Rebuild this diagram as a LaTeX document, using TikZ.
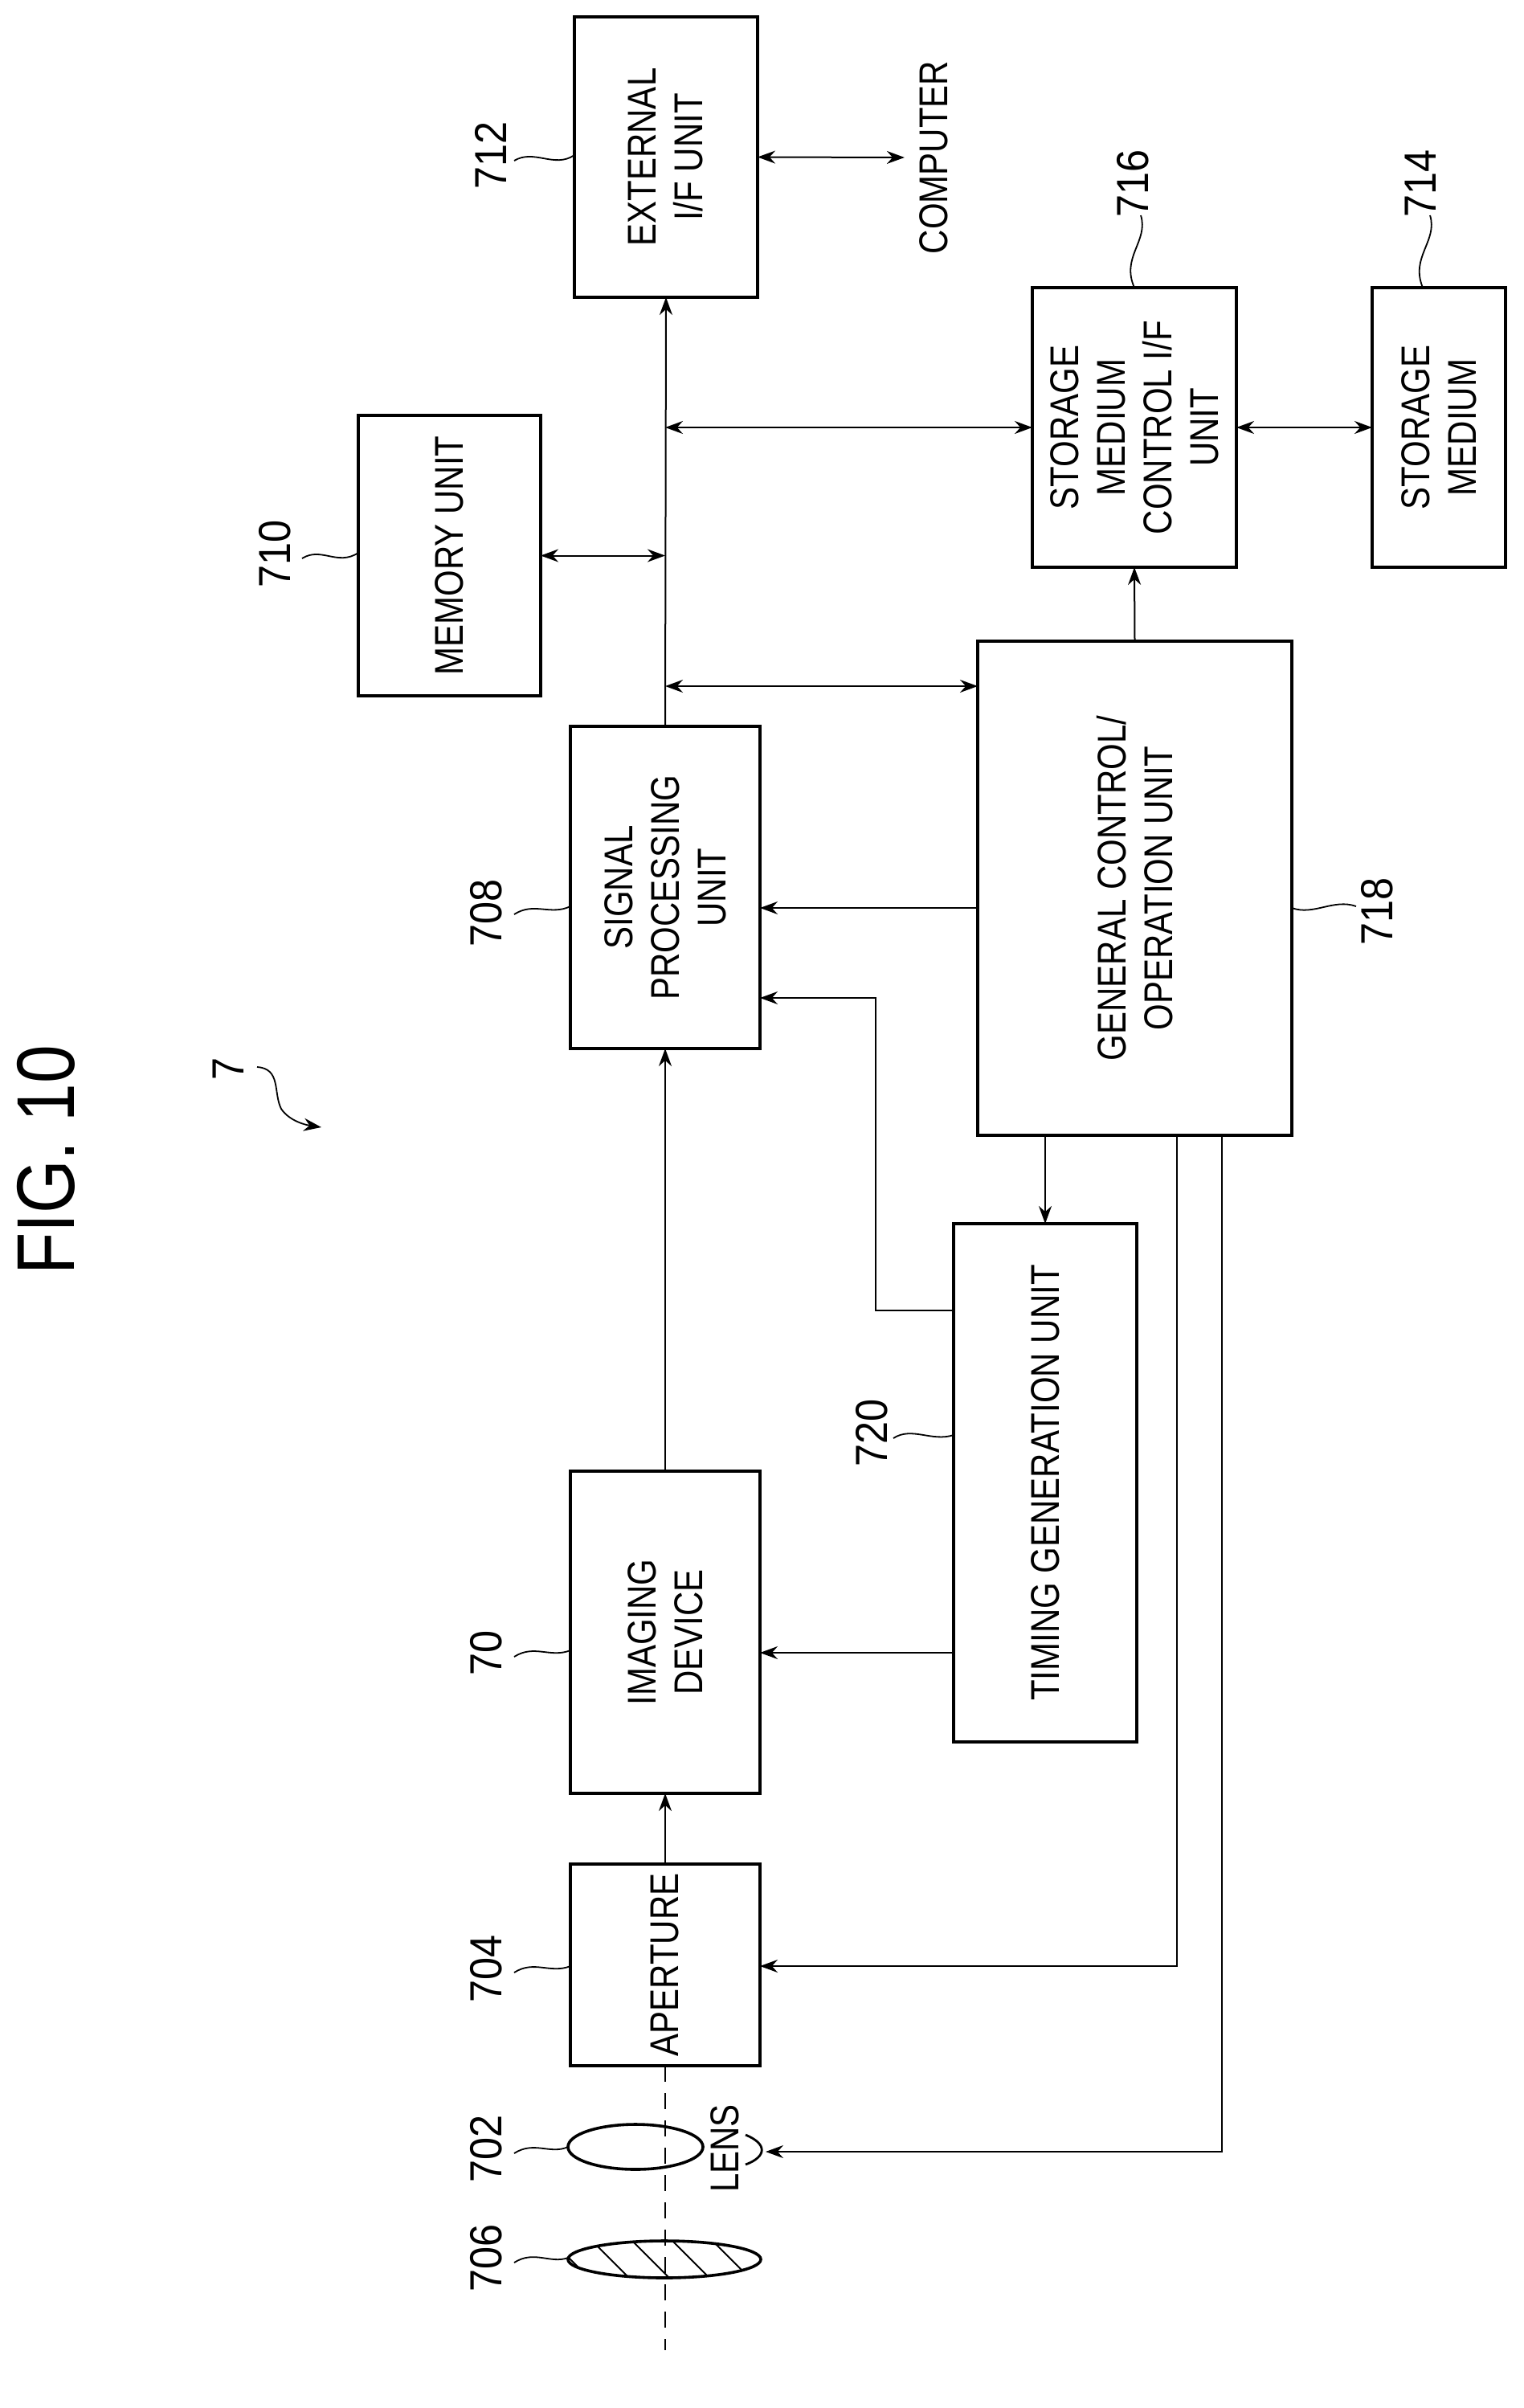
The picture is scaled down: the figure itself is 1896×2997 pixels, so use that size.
\documentclass[tikz,border=0pt]{standalone}
\usepackage{fontspec}
\setmainfont{Liberation Sans}[FakeStretch=0.84]
\newfontfamily\numfont{Liberation Sans}[FakeStretch=0.9]
\usetikzlibrary{arrows.meta,calc}
\begin{document}
\begin{tikzpicture}[x=0.5pt,y=-0.5pt,
  box/.style={draw,line width=2.4pt,rotate=90,inner sep=0pt,outer sep=0pt,align=center,font=\fontsize{25}{29}\selectfont},
  lbl/.style={rotate=90,font=\numfont\fontsize{28}{30}\selectfont,inner sep=0pt},
  conn/.style={line width=1pt},
  tip/.style={-{Stealth[length=11pt,width=8pt]}},
  dtip/.style={{Stealth[length=11pt,width=8pt]}-{Stealth[length=11pt,width=8pt]}},
  sq/.style={line width=0.9pt}]
\useasboundingbox (0,0) rectangle (1896,2997);
% boxes: minimum width = vertical extent/2 (pt), minimum height = horizontal extent/2
\node[box,minimum width=174.5pt,minimum height=114pt] (ext) at (829,195.5) {EXTERNAL\\I/F UNIT};
\node[box,minimum width=174.5pt,minimum height=113.5pt] (mem) at (559.5,691.5) {MEMORY UNIT};
\node[box,minimum width=200.5pt,minimum height=118pt] (sp) at (828,1104.5) {SIGNAL\\PROCESSING\\UNIT};
\node[box,minimum width=200.5pt,minimum height=118pt] (img) at (828,2031.5) {IMAGING\\DEVICE};
\node[box,minimum width=125.5pt,minimum height=118pt] (ap) at (828,2445.5) {APERTURE};
\node[box,minimum width=322.5pt,minimum height=114pt] (tg) at (1301,1845.5) {TIMING GENERATION UNIT};
\node[box,minimum width=307.5pt,minimum height=195.5pt] (gc) at (1412.5,1105.5) {GENERAL CONTROL/\\OPERATION UNIT};
\node[box,minimum width=174pt,minimum height=127pt] (smc) at (1412,532) {STORAGE\\MEDIUM\\CONTROL I/F\\UNIT};
\node[box,minimum width=174pt,minimum height=83pt] (sm) at (1791,532) {STORAGE\\MEDIUM};
\node[rotate=90,font=\fontsize{25}{29}\selectfont,inner sep=0pt] (comp) at (1162,196) {COMPUTER};
\node[rotate=90,font=\fontsize{25}{29}\selectfont,inner sep=0pt] (lenst) at (902,2674) {LENS};
\node[rotate=90,font=\fontsize{51}{55}\selectfont,inner sep=0pt] (fig) at (57,1444) {FIG. 10};
% coordinates
\coordinate (gcbus) at (1217,854);
\coordinate (gcsp) at (1217,1130);
\coordinate (tgout) at (1187,1631);
\coordinate (tgbend) at (1090,1631);
\coordinate (tgimg) at (1187,2057);
\coordinate (gcap) at (1465,1413);
\coordinate (gclens) at (1521,1413);
\coordinate (lensin) at (953,2678);
\coordinate (axisend) at (828,2925);
% connectors
\draw[conn,tip] (sp.east) -- (ext.west);
\draw[conn,dtip] (mem.south) -- (mem.south -| sp.center);
\draw[conn,dtip] (smc.north -| sp.center) -- (smc.north);
\draw[conn,dtip] (gcbus -| sp.center) -- (gcbus);
\draw[conn,dtip] (ext.south) -- ($(comp.north)+(-18,0)$);
\draw[conn,dtip] (smc.south) -- (sm.north);
\draw[conn,tip] (gc.east) -- (smc.west);
\draw[conn,tip] (gcsp) -- (gcsp -| sp.south);
\draw[conn,tip] (gc.west -| tg.center) -- (tg.east);
\draw[conn,tip] (tgout) -- (tgbend) -- (tgbend |- 0,1242) -- (sp.south |- 0,1242);
\draw[conn,tip] (tgimg) -- (tgimg -| img.south);
\draw[conn,tip] (img.east) -- (sp.west);
\draw[conn,tip] (ap.east) -- (img.west);
\draw[conn,tip] (gcap) -- (gcap |- 0,2447) -- (ap.south |- 0,2447);
\draw[conn,tip] (gclens) -- (gclens |- lensin) -- (lensin);
\draw[conn,dash pattern=on 10pt off 7pt] (ap.west) -- (axisend);
% lens 702
\draw[line width=1.8pt] (791,2672) ellipse [x radius=84, y radius=28];
\draw[line width=1.4pt] (928,2657) .. controls (955,2668) and (955,2684) .. (928,2694);
% filter 706
\begin{scope}
\clip (827,2812) ellipse [x radius=120, y radius=23];
\foreach \i in {-80,-30,20,70,120} \draw[line width=1pt] (760+\i,2782) -- (820+\i,2842);
\end{scope}
\draw[line width=1.8pt] (827,2812) ellipse [x radius=120, y radius=23];
% labels
\node[lbl] (l712) at (611,193) {712};
\draw[sq] (640,200) .. controls (665,185) and (690,210) .. (ext.north |- 0,193);
\node[lbl] (l710) at (342,689) {710};
\draw[sq] (376,695) .. controls (400,680) and (420,705) .. (mem.north |- 0,688);
\node[lbl] (l708) at (605,1136) {708};
\draw[sq] (640,1138) .. controls (665,1122) and (685,1140) .. (sp.north |- 0,1128);
\node[lbl] (l70) at (605,2057) {70};
\draw[sq] (640,2062) .. controls (665,2046) and (685,2064) .. (img.north |- 0,2054);
\node[lbl] (l704) at (605,2450) {704};
\draw[sq] (640,2455) .. controls (665,2439) and (685,2457) .. (ap.north |- 0,2447);
\node[lbl] (l702) at (605,2674) {702};
\draw[sq] (640,2680) .. controls (665,2664) and (685,2682) .. (707,2672);
\node[lbl] (l706) at (605,2810) {706};
\draw[sq] (640,2816) .. controls (665,2800) and (685,2818) .. (707,2810);
\node[lbl] (l716) at (1410,228) {716};
\draw[sq] (smc.east -| 0,0) ++(1412,0) coordinate (s716);
\draw[sq] (1412,358) .. controls (1395,320) and (1430,300) .. (1420,268);
\node[lbl] (l714) at (1768,228) {714};
\draw[sq] (1771,358) .. controls (1755,320) and (1790,300) .. (1780,268);
\node[lbl] (l718) at (1714,1134) {718};
\draw[sq] (gc.south |- 0,1130) .. controls (1635,1140) and (1660,1118) .. (1688,1128);
\node[lbl] (l720) at (1085,1783) {720};
\draw[sq] (1112,1790) .. controls (1135,1775) and (1160,1795) .. (tg.north |- 0,1786);
\node[lbl] (l7) at (284,1330) {7};
\draw[sq,-{Stealth[length=11pt,width=8pt]}] (320,1328) .. controls (350,1330) and (340,1360) .. (350,1380) .. controls (360,1395) and (380,1400) .. (400,1403);
\end{tikzpicture}
\end{document}
